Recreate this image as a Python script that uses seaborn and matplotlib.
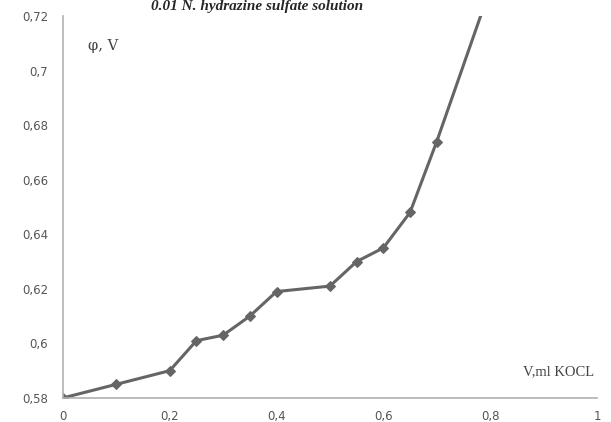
import pandas as pd
import matplotlib
matplotlib.use("Agg")
import matplotlib.pyplot as plt
from matplotlib.ticker import FuncFormatter, MultipleLocator
import seaborn as sns

# titration curve: volume of KOCl vs potential
volume_ml = [0, 0.1, 0.2, 0.25, 0.3, 0.35, 0.4, 0.5, 0.55, 0.6, 0.65, 0.7, 0.8]
potential_v = [0.58, 0.585, 0.59, 0.601, 0.603, 0.61, 0.619, 0.621, 0.63, 0.635, 0.648, 0.674, 0.73]

sns.set_style("white")

fig = plt.figure(figsize=(6.11, 4.22), dpi=100)
ax = fig.add_axes([0.103, 0.057, 0.874, 0.905])

df = pd.DataFrame({"V": volume_ml, "phi": potential_v})
sns.lineplot(x="V", y="phi", data=df, ax=ax, color="#656565", linewidth=2.2,
             marker="D", markersize=5, markeredgecolor="#656565")

ax.set_xlim(0, 1)
ax.set_ylim(0.58, 0.72)
ax.xaxis.set_major_locator(MultipleLocator(0.2))
ax.yaxis.set_major_locator(MultipleLocator(0.02))

def comma(v, pos):
    s = f"{v:.2f}".rstrip("0").rstrip(".")
    return s.replace(".", ",")

ax.xaxis.set_major_formatter(FuncFormatter(comma))
ax.yaxis.set_major_formatter(FuncFormatter(comma))

for side in ["top", "right"]:
    ax.spines[side].set_visible(False)
for side in ["left", "bottom"]:
    ax.spines[side].set_color("#b0b0b0")
    ax.spines[side].set_linewidth(1.2)

ax.tick_params(axis="both", colors="#b0b0b0", labelcolor="#555555",
               labelsize=8.5, length=5, direction="inout", width=1)
ax.tick_params(axis="y", pad=8)
ax.tick_params(axis="x", pad=6)
ax.set_xlabel("")
ax.set_ylabel("")

# axis captions inside the plot, like the original Excel chart
ax.text(0.047, 0.709, "φ, V", fontsize=10.5, family="DejaVu Serif", color="#444444",
        ha="left", va="center")
ax.text(0.995, 0.5895, "V,ml KOCL", fontsize=10.5, family="Liberation Serif",
        color="#444444", ha="right", va="center")

# title at the very top edge of the picture
fig.text(0.42, 0.999, "0.01 N. hydrazine sulfate solution", fontsize=11,
         family="Liberation Serif", fontweight="bold", fontstyle="italic",
         ha="center", va="top")

ax.set_facecolor("white")
fig.savefig("out.png", dpi=100)
